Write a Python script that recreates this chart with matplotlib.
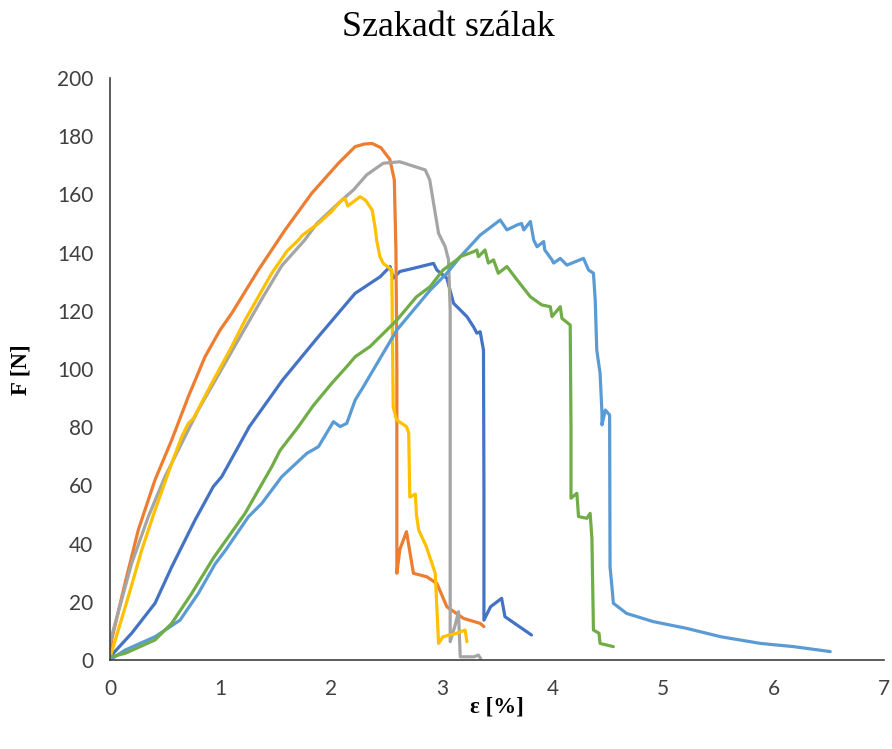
import matplotlib
matplotlib.use("Agg")
import matplotlib.pyplot as plt

# --- data (strain %, force N) ---
blue_x = [0, 0.015, 0.196, 0.407, 0.558, 0.769, 0.934, 1.01, 1.26, 1.56, 1.87, 2.14, 2.216, 2.442, 2.532, 2.56, 2.62, 2.743, 2.924, 2.955, 3.045, 3.105, 3.226, 3.286, 3.316, 3.346, 3.376, 3.38, 3.38, 3.44, 3.54, 3.57, 3.68, 3.81]
blue_y = [1.5, 1.7, 9.2, 19.5, 32, 48.1, 59.6, 63, 80.2, 96.2, 110.5, 122.6, 126, 131.7, 135.2, 131.2, 133.5, 134.6, 136.3, 134, 131.2, 122.6, 118, 114.5, 112.3, 112.8, 106.5, 60, 13.7, 18.3, 21.2, 14.9, 12, 8.6]

orange_x = [0, 0.015, 0.136, 0.256, 0.407, 0.558, 0.708, 0.859, 0.995, 1.10, 1.341, 1.583, 1.824, 2.065, 2.216, 2.30, 2.37, 2.45, 2.53, 2.57, 2.585, 2.593, 2.593, 2.62, 2.68, 2.743, 2.864, 2.955, 3.045, 3.196, 3.346, 3.38]
orange_y = [2, 6.9, 26.4, 44.7, 61.9, 75.6, 90.5, 104.2, 113.4, 119.1, 134, 147.8, 160.4, 170.7, 176.4, 177.3, 177.5, 176, 172, 165, 140, 100, 29.8, 38, 44.1, 29.8, 28.6, 26.3, 18.3, 14.3, 12.6, 11.5]

gray_x = [0, 0.03, 0.196, 0.346, 0.497, 0.648, 0.799, 0.98, 1.16, 1.387, 1.553, 1.76, 1.87, 2.08, 2.2, 2.32, 2.47, 2.62, 2.80, 2.85, 2.89, 2.94, 2.97, 3.03, 3.06, 3.075, 3.075, 3.12, 3.15, 3.166, 3.29, 3.33, 3.35]
gray_y = [6, 10.3, 33.2, 49.2, 63, 74.5, 86, 98, 110, 125, 135.5, 144.3, 150, 157.5, 161.5, 166.7, 170.7, 171.2, 169, 168.4, 165, 153.5, 146.6, 142, 137.5, 120, 6.3, 12, 16.6, 1.1, 1.1, 1.7, 0.5]

yellow_x = [0, 0.03, 0.166, 0.287, 0.407, 0.558, 0.648, 0.708, 0.754, 0.92, 1.10, 1.221, 1.462, 1.60, 1.703, 1.74, 1.884, 2.00, 2.095, 2.125, 2.15, 2.26, 2.31, 2.37, 2.40, 2.41, 2.44, 2.47, 2.547, 2.56, 2.59, 2.68, 2.70, 2.71, 2.76, 2.77, 2.79, 2.86, 2.94, 2.97, 3.01, 3.135, 3.21, 3.226]
yellow_y = [1, 4.6, 21.8, 37.8, 51.5, 67.6, 76.7, 81.3, 83, 95.1, 107.7, 116.8, 132.9, 140.5, 144.3, 146, 150, 154, 158.1, 158.5, 156, 159.2, 158, 154.6, 147.8, 144.3, 138.6, 136.3, 134, 87, 82.5, 80.2, 78, 56, 57, 50, 44.7, 38.9, 29.8, 5.7, 8, 9.2, 10.3, 6.3]

lblue_x = [0, 0.136, 0.407, 0.633, 0.799, 0.95, 1.04, 1.251, 1.372, 1.553, 1.779, 1.884, 2.02, 2.08, 2.14, 2.216, 2.29, 2.593, 2.894, 3.045, 3.165, 3.346, 3.527, 3.588, 3.68, 3.72, 3.74, 3.80, 3.83, 3.86, 3.92, 3.93, 3.995, 4.01, 4.07, 4.13, 4.28, 4.326, 4.37, 4.386, 4.40, 4.43, 4.447, 4.447, 4.477, 4.516, 4.52, 4.537, 4.55, 4.67, 4.91, 5.21, 5.52, 5.88, 6.18, 6.51]
lblue_y = [0, 3.4, 8, 13.7, 22.9, 33, 37.5, 49.2, 53.8, 63, 71, 73.3, 81.9, 80.2, 81.3, 89.3, 93.9, 113.4, 127.1, 132.9, 138.5, 146, 151.2, 147.8, 149.5, 150, 147.8, 150.7, 144.3, 142, 143.8, 140.9, 137.5, 136.4, 138, 135.7, 138, 134, 132.9, 123.7, 106.5, 98.5, 84.8, 80.8, 85.9, 84.2, 32, 25.2, 19.5, 16, 13.2, 10.9, 8, 5.7, 4.6, 2.9]

green_x = [0, 0.136, 0.407, 0.558, 0.739, 0.934, 1.221, 1.462, 1.537, 1.703, 1.839, 2.005, 2.14, 2.216, 2.35, 2.593, 2.77, 2.894, 3.01, 3.135, 3.165, 3.286, 3.316, 3.33, 3.39, 3.42, 3.467, 3.51, 3.588, 3.68, 3.80, 3.904, 3.98, 3.995, 4.07, 4.085, 4.16, 4.167, 4.167, 4.22, 4.235, 4.31, 4.34, 4.356, 4.37, 4.42, 4.43, 4.55]
green_y = [1, 2.3, 6.9, 12.6, 22.9, 35, 50.4, 66.4, 72, 80.2, 87.5, 95.1, 100.8, 104.2, 107.7, 116.8, 124.8, 128.3, 134, 137.5, 138.6, 140.3, 140.9, 138.6, 140.9, 136.4, 137.5, 132.9, 135.2, 130.6, 124.8, 122, 121.4, 118, 121.4, 117.4, 115.1, 80, 55.6, 57.3, 49.3, 48.7, 50.4, 41.8, 10.3, 9.2, 5.7, 4.6]

x_ticks = [0, 1, 2, 3, 4, 5, 6, 7]
y_ticks = [0, 20, 40, 60, 80, 100, 120, 140, 160, 180, 200]
title = "Szakadt szálak"
xlabel = "ε [%]"
ylabel = "F [N]"

fig = plt.figure(figsize=(8.92, 7.49), dpi=100)
ax = fig.add_axes([0.1233, 0.1188, 0.8682, 0.7771])

series = [
    (blue_x, blue_y, "#4472C4"),
    (orange_x, orange_y, "#ED7D31"),
    (gray_x, gray_y, "#A5A5A5"),
    (yellow_x, yellow_y, "#FFC000"),
    (lblue_x, lblue_y, "#5B9BD5"),
    (green_x, green_y, "#70AD47"),
]
for xs, ys, c in series:
    ax.plot(xs, ys, color=c, lw=2.3, solid_joinstyle="round", solid_capstyle="round")

ax.set_xlim(0, 7)
ax.set_ylim(0, 200)
ax.set_xticks(x_ticks)
ax.set_yticks(y_ticks)
ax.tick_params(length=0, labelsize=15)
for lab in ax.get_xticklabels() + ax.get_yticklabels():
    lab.set_family("Lato")
    lab.set_color("#404040")
ax.tick_params(axis="x", pad=14)
ax.tick_params(axis="y", pad=12)

for s in ["top", "right"]:
    ax.spines[s].set_visible(False)
for s in ["left", "bottom"]:
    ax.spines[s].set_color("#404040")
    ax.spines[s].set_linewidth(1.2)

fig.text(0.503, 0.963, title, ha="center", va="center", family="Liberation Serif", fontsize=26)
fig.text(0.557, 0.056, xlabel, ha="center", va="center", family="Liberation Serif", fontsize=16.5, fontweight="bold")
fig.text(0.024, 0.507, ylabel, ha="center", va="center", rotation=90, family="Liberation Serif", fontsize=16.5, fontweight="bold")

fig.savefig("out.png", dpi=100)
